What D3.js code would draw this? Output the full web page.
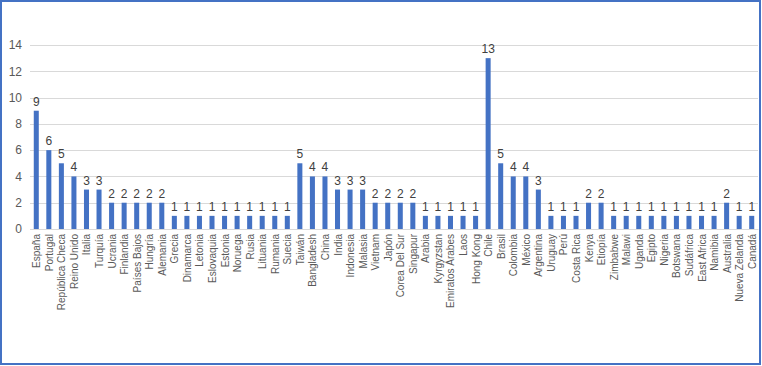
<!DOCTYPE html>
<html>
<head>
<meta charset="utf-8">
<script src="https://cdn.jsdelivr.net/npm/d3@7"></script>
<style>
  body { margin: 0; background: #fff; }
  svg { display: block; }
</style>
</head>
<body>
<svg width="762" height="366"></svg>
<script>
const svg = d3.select("svg");

// categories and counts
const countries = [
  "España", "Portugal", "República Checa", "Reino Unido", "Italia", "Turquía",
  "Ucrania", "Finlandia", "Países Bajos", "Hungría", "Alemania", "Grecia",
  "Dinamarca", "Letonia", "Eslovaquia", "Estonia", "Noruega", "Rusia",
  "Lituania", "Rumania", "Suecia", "Taiwán", "Bangladesh", "China", "India",
  "Indonesia", "Malasia", "Vietnam", "Japón", "Corea Del Sur", "Singapur",
  "Arabia", "Kyrgyzstan", "Emiratos Árabes", "Laos", "Hong Kong", "Chile",
  "Brasil", "Colombia", "México", "Argentina", "Uruguay", "Perú", "Costa Rica",
  "Kenya", "Etiopía", "Zimbabwe", "Malawi", "Uganda", "Egipto", "Nigeria",
  "Botswana", "Sudáfrica", "East Africa", "Namibia", "Australia",
  "Nueva Zelanda", "Canadá"
];
const counts = [
  9, 6, 5, 4, 3, 3,
  2, 2, 2, 2, 2, 1,
  1, 1, 1, 1, 1, 1,
  1, 1, 1, 5, 4, 4, 3,
  3, 3, 2, 2, 2, 2,
  1, 1, 1, 1, 1, 13,
  5, 4, 4, 3, 1, 1, 1,
  2, 2, 1, 1, 1, 1, 1,
  1, 1, 1, 1, 2,
  1, 1
];
const yTicks = [0, 2, 4, 6, 8, 10, 12, 14];

const data = countries.map((c, i) => ({ name: c, value: counts[i] }));

const font = "'Liberation Sans', Arial, sans-serif";
const textColor = "#595959";
const barColor = "#4472C4";

// outer frame
svg.append("rect")
  .attr("x", 1).attr("y", 1)
  .attr("width", 759).attr("height", 363)
  .attr("fill", "none")
  .attr("stroke", "#4472C4")
  .attr("stroke-width", 2);

const x = d3.scaleBand()
  .domain(countries)
  .range([30, 758])
  .paddingInner(0.6)
  .paddingOuter(0.3);

const y = d3.scaleLinear()
  .domain([0, 14])
  .range([229, 45]);

// gridlines
svg.append("g")
  .selectAll("line")
  .data(yTicks)
  .enter().append("line")
  .attr("x1", 30)
  .attr("x2", 758)
  .attr("y1", d => Math.round(y(d)) + 0.5)
  .attr("y2", d => Math.round(y(d)) + 0.5)
  .attr("stroke", "#d9d9d9")
  .attr("stroke-width", 1);

// y axis labels
const yAxis = svg.append("g")
  .attr("transform", "translate(26,0)")
  .call(d3.axisLeft(y).tickValues(yTicks).tickSize(0).tickPadding(4));
yAxis.select(".domain").remove();
yAxis.selectAll("text")
  .attr("font-family", font)
  .attr("font-size", 12)
  .attr("fill", textColor);

// bars
svg.append("g")
  .selectAll("rect")
  .data(data)
  .enter().append("rect")
  .attr("x", d => x(d.name))
  .attr("y", d => y(d.value))
  .attr("width", x.bandwidth())
  .attr("height", d => y(0) - y(d.value))
  .attr("fill", barColor);

// value labels
svg.append("g")
  .selectAll("text")
  .data(data)
  .enter().append("text")
  .attr("x", d => x(d.name) + x.bandwidth() / 2)
  .attr("y", d => y(d.value) - 5)
  .attr("text-anchor", "middle")
  .attr("font-family", font)
  .attr("font-size", 12)
  .attr("fill", "#404040")
  .text(d => d.value);

// x axis category labels
const xAxis = svg.append("g")
  .attr("transform", `translate(0,${y(0)})`)
  .call(d3.axisBottom(x).tickSize(0).tickPadding(0));
xAxis.select(".domain")
  .attr("stroke", "#d9d9d9");
xAxis.selectAll("text")
  .attr("font-family", font)
  .attr("font-size", 10)
  .attr("fill", textColor)
  .attr("text-anchor", "end")
  .attr("dy", null)
  .attr("transform", "translate(4,5) rotate(-90)");
</script>
</body>
</html>
